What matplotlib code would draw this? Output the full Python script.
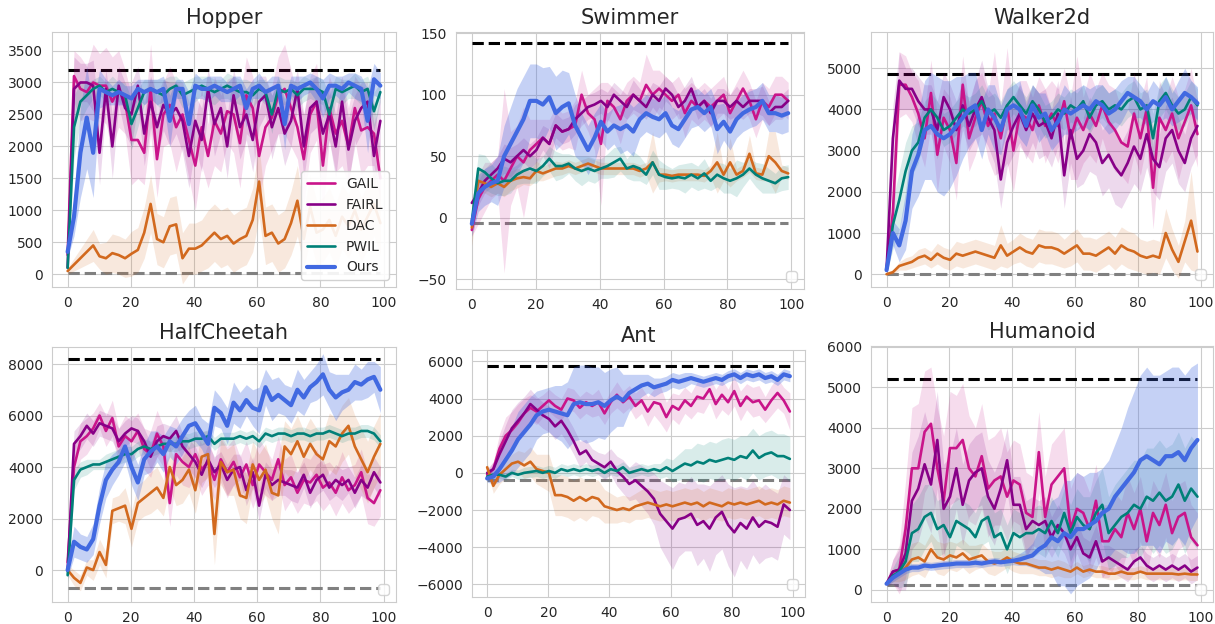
import numpy as np
import matplotlib
matplotlib.use("Agg")
import matplotlib.pyplot as plt
from matplotlib.ticker import MultipleLocator
import seaborn as sns

# training iterations (50 readings across 0..99)
steps = np.linspace(0, 99, 50)

methods = ["GAIL", "FAIRL", "DAC", "PWIL", "Ours"]
colors = ["#c9148a", "#870087", "#d2691e", "#008078", "#4169e1"]

# ---------------- Hopper ----------------
hopper_gail = [300, 3100, 2900, 2850, 3000, 2950, 2950, 2700, 2900, 2700, 2100, 2100, 1900, 2900, 1800, 2500, 2650, 2300, 2500, 2100,
               1700, 2300, 1850, 2400, 2200, 2550, 2500, 2050, 2800, 2600, 1850, 2300, 2450, 2800, 2900, 2600, 2300, 1800, 2500, 2700,
               1700, 2600, 2200, 2400, 2000, 2600, 2250, 2300, 2200, 1500]
hopper_fairl = [100, 2900, 3000, 3000, 2950, 1900, 2900, 2000, 2950, 2600, 2500, 2950, 2200, 2700, 2300, 2650, 2500, 2600, 2400, 1850,
                2400, 2100, 2900, 2350, 2600, 2000, 2800, 2300, 2500, 2100, 2700, 2800, 2300, 2600, 2200, 2400, 2900, 2000, 2600, 2700,
                2200, 2500, 2000, 2700, 1950, 2400, 2600, 2700, 1850, 2400]
hopper_dac = [50, 150, 250, 350, 450, 280, 250, 330, 300, 250, 320, 380, 650, 1100, 550, 500, 750, 780, 250, 400,
              400, 450, 550, 650, 550, 600, 480, 550, 600, 850, 1450, 600, 650, 480, 550, 800, 1150, 550, 1050, 650,
              700, 850, 600, 900, 750, 1000, 700, 900, 1100, 800]
hopper_pwil = [100, 2300, 2700, 2800, 2900, 2950, 2850, 2900, 2850, 2800, 2350, 2600, 2850, 2900, 2850, 2800, 2900, 2950, 2800, 2850,
               2900, 2950, 2900, 2850, 2900, 2950, 2900, 2850, 2850, 2800, 2900, 2850, 2500, 2900, 2850, 2900, 2800, 2900, 2900, 2900,
               2850, 2500, 2900, 2850, 2900, 2950, 2850, 2900, 2550, 2850]
hopper_ours = [350, 900, 1900, 2450, 1900, 2900, 2850, 2800, 2850, 2800, 2750, 2900, 2850, 2900, 2850, 2900, 2400, 2900, 2900, 2350,
               2950, 2900, 2900, 2950, 2900, 2850, 2900, 2950, 2600, 2900, 2950, 2850, 2900, 2950, 2350, 2950, 2900, 2950, 3000, 2900,
               2750, 2950, 2950, 2900, 3000, 2950, 2900, 2400, 3050, 2950]
hopper_gail_sd = [150, 400, 500, 400, 600, 500, 600, 700, 600, 500, 700, 600, 500, 700, 600, 500, 600, 700, 500, 600,
                  700, 600, 500, 700, 600, 500, 600, 700, 600, 500, 700, 600, 500, 600, 700, 600, 500, 700, 600, 600,
                  700, 500, 600, 700, 600, 500, 700, 600, 500, 400]
hopper_fairl_sd = [100, 500, 300, 300, 400, 500, 300, 500, 300, 400, 500, 300, 500, 400, 500, 400, 500, 400, 500, 500,
                   400, 500, 300, 500, 400, 500, 400, 500, 400, 500, 400, 300, 500, 400, 500, 400, 300, 500, 400, 400,
                   500, 400, 500, 300, 500, 400, 400, 300, 500, 400]
hopper_dac_sd = [50, 100, 150, 200, 250, 200, 250, 300, 300, 300, 350, 350, 400, 450, 400, 400, 450, 450, 400, 400,
                 400, 400, 450, 450, 450, 450, 450, 450, 450, 500, 550, 450, 450, 450, 450, 500, 550, 450, 500, 500,
                 500, 500, 500, 500, 500, 500, 500, 500, 500, 500]
hopper_pwil_sd = [50, 500, 300, 200, 150, 150, 150, 200, 150, 200, 400, 300, 200, 150, 200, 250, 200, 150, 200, 200,
                  200, 150, 200, 200, 150, 200, 200, 200, 200, 200, 150, 200, 300, 200, 200, 150, 200, 200, 150, 200,
                  200, 300, 200, 200, 150, 200, 200, 200, 300, 150]
hopper_ours_sd = [100, 300, 700, 800, 700, 300, 200, 150, 200, 150, 200, 150, 200, 150, 200, 200, 400, 150, 150, 500,
                  200, 150, 200, 150, 200, 150, 200, 150, 300, 150, 200, 150, 200, 150, 400, 150, 200, 150, 150, 200,
                  300, 200, 150, 200, 150, 200, 200, 500, 250, 200]

# ---------------- Swimmer ----------------
swimmer_gail = [-10, 15, 25, 30, 35, 30, 40, 50, 45, 55, 60, 65, 60, 75, 70, 72, 75, 100, 85, 80,
                60, 95, 90, 80, 95, 100, 95, 108, 100, 105, 100, 95, 100, 85, 95, 90, 95, 90, 95, 100,
                85, 95, 105, 95, 80, 95, 90, 100, 100, 95]
swimmer_fairl = [12, 20, 30, 35, 40, 48, 45, 50, 55, 50, 55, 65, 60, 75, 70, 72, 80, 85, 90, 92,
                 95, 90, 100, 95, 90, 100, 95, 90, 100, 95, 105, 100, 90, 95, 105, 90, 95, 85, 95, 95,
                 90, 95, 90, 95, 95, 95, 85, 90, 90, 95]
swimmer_dac = [-8, 30, 28, 25, 28, 25, 30, 32, 33, 32, 38, 36, 38, 40, 40, 42, 40, 42, 44, 42,
               40, 40, 40, 40, 40, 40, 38, 40, 45, 35, 35, 34, 35, 35, 35, 35, 34, 38, 45, 35,
               45, 35, 38, 52, 36, 35, 50, 45, 38, 36]
swimmer_pwil = [-3, 40, 37, 32, 28, 30, 30, 35, 38, 40, 38, 42, 48, 42, 42, 44, 40, 38, 40, 38,
                40, 42, 45, 48, 40, 42, 40, 35, 45, 35, 33, 32, 33, 32, 35, 32, 36, 30, 35, 32,
                30, 32, 35, 40, 35, 32, 30, 28, 32, 33]
swimmer_ours = [-5, 20, 25, 28, 30, 50, 60, 70, 80, 95, 95, 92, 98, 85, 90, 93, 75, 65, 55, 65,
                78, 70, 75, 72, 75, 70, 80, 85, 82, 80, 85, 75, 72, 80, 88, 90, 85, 90, 72, 78,
                70, 80, 85, 88, 90, 95, 85, 85, 83, 85]
swimmer_gail_sd = [5, 20, 20, 15, 15, 75, 30, 25, 45, 25, 20, 15, 20, 15, 15, 15, 20, 20, 15, 25,
                   50, 15, 15, 20, 15, 15, 15, 25, 20, 15, 15, 15, 15, 20, 15, 15, 15, 15, 15, 15,
                   15, 15, 15, 15, 15, 15, 15, 15, 15, 15]
swimmer_fairl_sd = [5, 10, 10, 10, 10, 12, 12, 10, 10, 10, 10, 10, 12, 10, 10, 10, 12, 10, 10, 10,
                    10, 12, 10, 10, 10, 12, 10, 10, 10, 12, 10, 10, 10, 12, 10, 10, 10, 12, 10, 10,
                    10, 12, 10, 10, 10, 12, 10, 10, 10, 10]
swimmer_dac_sd = [15, 10, 8, 8, 8, 8, 8, 8, 6, 6, 8, 6, 6, 6, 5, 5, 5, 5, 5, 5,
                  5, 5, 5, 5, 5, 5, 5, 5, 25, 6, 5, 5, 5, 5, 5, 5, 5, 5, 25, 5,
                  20, 5, 5, 15, 5, 5, 20, 25, 5, 5]
swimmer_pwil_sd = [8, 12, 14, 12, 10, 12, 10, 8, 10, 12, 10, 8, 10, 12, 10, 8, 10, 12, 10, 10,
                   8, 10, 12, 10, 8, 12, 10, 8, 10, 12, 10, 8, 10, 12, 10, 10, 12, 8, 10, 12,
                   10, 15, 10, 8, 10, 12, 10, 8, 10, 10]
swimmer_ours_sd = [10, 15, 15, 15, 20, 25, 30, 35, 35, 30, 30, 30, 25, 30, 30, 25, 25, 20, 20, 20,
                   15, 15, 15, 20, 20, 20, 15, 15, 15, 15, 15, 15, 15, 15, 15, 15, 15, 15, 20, 15,
                   15, 15, 15, 15, 15, 15, 15, 15, 15, 15]

# ---------------- Walker2d ----------------
walker_gail = [100, 1500, 4600, 4600, 4300, 3900, 3300, 4400, 2900, 3800, 3500, 2700, 4600, 3300, 3800, 4200, 3600, 3900, 3300, 4100,
               3000, 3900, 3800, 3500, 4100, 3600, 3900, 3600, 4200, 3300, 3800, 3500, 3900, 3600, 4100, 3700, 3500, 3200, 3100, 3900,
               3300, 4000, 2100, 3800, 3500, 3900, 3300, 3700, 4100, 3400]
walker_fairl = [100, 3300, 4700, 4500, 4500, 4200, 4000, 4000, 3500, 4300, 4000, 3500, 4100, 3600, 4000, 4300, 3800, 3500, 2300, 3200,
                3600, 3900, 3500, 3900, 3600, 3700, 3300, 3900, 2400, 3500, 2800, 3000, 3400, 3200, 2700, 2900, 2600, 2400, 2700, 3100,
                2800, 3400, 2800, 2600, 3300, 3500, 3000, 2700, 3300, 3600]
walker_dac = [0, 50, 200, 250, 300, 400, 450, 350, 500, 400, 350, 500, 450, 500, 550, 500, 450, 400, 700, 450,
              550, 650, 550, 500, 700, 650, 650, 600, 500, 600, 700, 500, 500, 450, 550, 650, 500, 700, 600, 550,
              450, 400, 450, 400, 1000, 600, 300, 800, 1300, 550]
walker_pwil = [100, 1200, 1800, 2500, 3000, 3200, 3800, 4000, 3800, 3500, 3600, 3800, 4000, 3900, 4000, 4200, 3900, 4000, 3800, 4100,
               4300, 4100, 3900, 4200, 4000, 3700, 3800, 4000, 3900, 4100, 4000, 4200, 3800, 4100, 4200, 4000, 4100, 4000, 4200, 4300,
               4000, 4100, 3300, 4200, 4400, 4100, 3900, 4000, 4300, 4100]
walker_ours = [100, 1000, 700, 1300, 2500, 2900, 3500, 3600, 3400, 3300, 3400, 3600, 3800, 4000, 4100, 3500, 4000, 3800, 3500, 4000,
               4100, 4000, 3600, 4100, 3800, 3900, 3500, 3700, 4000, 3900, 4000, 4100, 4000, 4200, 4100, 3900, 4000, 4200, 4400, 4300,
               4200, 4000, 4200, 4100, 4300, 4000, 4200, 4400, 4300, 4150]
walker_gail_sd = [100, 600, 800, 700, 600, 800, 700, 800, 900, 700, 800, 900, 700, 800, 900, 700, 800, 1500, 800, 1400,
                  1000, 800, 900, 800, 700, 900, 800, 900, 800, 1000, 1500, 800, 1000, 900, 800, 900, 1000, 800, 900, 1000,
                  900, 800, 1000, 900, 800, 900, 1000, 800, 900, 800]
walker_fairl_sd = [100, 800, 700, 500, 500, 600, 600, 600, 700, 600, 600, 700, 600, 600, 700, 900, 700, 800, 700, 600,
                   700, 700, 700, 700, 800, 800, 700, 800, 800, 800, 700, 800, 900, 800, 800, 800, 900, 800, 800, 900,
                   800, 800, 800, 800, 800, 800, 800, 700, 700, 700]
walker_dac_sd = [20, 50, 100, 150, 150, 200, 200, 200, 250, 250, 250, 300, 300, 300, 300, 300, 300, 300, 500, 300,
                 300, 350, 350, 350, 400, 400, 400, 400, 350, 400, 400, 400, 400, 400, 400, 400, 400, 450, 450, 450,
                 400, 400, 400, 400, 600, 500, 400, 500, 1200, 500]
walker_pwil_sd = [100, 600, 700, 700, 600, 500, 400, 400, 400, 400, 400, 400, 400, 400, 400, 400, 400, 400, 400, 400,
                  400, 400, 400, 400, 400, 400, 400, 400, 400, 400, 400, 400, 400, 400, 400, 400, 400, 400, 400, 400,
                  400, 400, 600, 400, 400, 400, 400, 400, 400, 400]
walker_ours_sd = [100, 300, 400, 700, 900, 1000, 1200, 1300, 1400, 1400, 1300, 1200, 1000, 900, 800, 700, 600, 800, 600, 500,
                  500, 700, 500, 500, 600, 500, 500, 500, 600, 500, 500, 500, 500, 400, 500, 500, 500, 500, 400, 500,
                  400, 400, 500, 400, 500, 400, 500, 600, 400, 400]

# ---------------- HalfCheetah ----------------
cheetah_gail = [300, 4000, 5000, 5200, 5500, 6000, 5400, 5900, 4800, 5200, 5000, 5400, 4700, 4500, 5300, 4800, 2600, 4500, 4200, 4000,
                4500, 3900, 4200, 3500, 4300, 3800, 4200, 3600, 4100, 3300, 4100, 3800, 3500, 4300, 3300, 3600, 3000, 3500, 3400, 3700,
                3200, 3400, 3000, 3600, 3100, 3300, 3800, 2800, 2600, 3100]
cheetah_fairl = [0, 4900, 5200, 5600, 5300, 5700, 5600, 5500, 5000, 5300, 5500, 5400, 5000, 4400, 5000, 5200, 5100, 5400, 4800, 4500,
                 4200, 3700, 4300, 3800, 4100, 3500, 3900, 4000, 3100, 3800, 2500, 3700, 3300, 3500, 3400, 3300, 3200, 3700, 3000, 3500,
                 3700, 3200, 3500, 3300, 3500, 3000, 3500, 3200, 3800, 3400]
cheetah_dac = [0, -300, -500, 100, 0, 700, 200, 2300, 2400, 2500, 1600, 2600, 2800, 3000, 3200, 2800, 4000, 3300, 3500, 3900,
               3100, 4400, 4500, 1400, 4200, 3800, 3900, 2900, 2800, 4100, 3500, 3900, 3000, 2900, 4800, 4500, 5000, 4400, 4900, 4500,
               4300, 5000, 4800, 5300, 5600, 4800, 4300, 3800, 4400, 4900]
cheetah_pwil = [-200, 3500, 3900, 4000, 4100, 4100, 4200, 4300, 4400, 4500, 4500, 4700, 4800, 4700, 4800, 4900, 4900, 4900, 5000, 5000,
                5100, 5100, 5200, 4900, 5100, 5100, 5100, 5200, 5100, 5200, 5000, 5300, 5200, 5300, 5300, 5200, 5300, 5300, 5200, 5300,
                5300, 5400, 5300, 5200, 5300, 5300, 5400, 5400, 5300, 5000]
cheetah_ours = [0, 1100, 900, 800, 1200, 2500, 3500, 3900, 4200, 4800, 4000, 3400, 4300, 4600, 4800, 4500, 5000, 4800, 5200, 5600,
                5700, 5300, 4900, 6300, 6100, 5600, 6500, 6200, 6600, 6300, 6200, 7100, 6600, 6800, 6600, 6400, 7000, 6700, 7100, 7300,
                7600, 7000, 6700, 6900, 7000, 7300, 7200, 7400, 7500, 7000]
cheetah_gail_sd = [300, 800, 700, 700, 600, 500, 600, 700, 700, 800, 800, 700, 800, 900, 900, 800, 900, 800, 900, 800,
                   900, 1000, 900, 800, 900, 1000, 900, 800, 900, 900, 1000, 900, 800, 900, 1000, 900, 800, 900, 900, 1000,
                   900, 800, 900, 1000, 900, 800, 900, 1000, 900, 1000]
cheetah_fairl_sd = [200, 500, 500, 500, 500, 500, 500, 500, 500, 500, 500, 500, 500, 500, 600, 500, 500, 600, 500, 600,
                    600, 500, 600, 600, 500, 600, 600, 500, 600, 600, 600, 500, 600, 600, 500, 600, 600, 500, 600, 600,
                    600, 500, 600, 600, 500, 600, 600, 500, 600, 600]
cheetah_dac_sd = [200, 300, 300, 300, 400, 500, 500, 500, 500, 700, 700, 700, 700, 800, 800, 700, 800, 800, 900, 900,
                  900, 1000, 900, 1200, 900, 900, 1000, 900, 1000, 900, 1000, 1000, 1000, 1500, 1000, 1000, 1000, 1000, 1000, 1000,
                  1000, 1100, 1100, 1100, 1100, 1200, 1200, 1200, 1200, 1200]
cheetah_pwil_sd = [300, 400, 300, 300, 200, 200, 300, 300, 300, 300, 300, 300, 300, 300, 300, 300, 300, 300, 300, 300,
                   300, 250, 250, 250, 250, 250, 250, 250, 250, 250, 250, 250, 250, 250, 250, 250, 250, 250, 250, 250,
                   250, 250, 250, 250, 250, 250, 250, 250, 250, 250]
cheetah_ours_sd = [300, 600, 500, 500, 600, 700, 700, 600, 500, 600, 700, 700, 600, 800, 600, 700, 600, 700, 700, 600,
                   700, 600, 800, 700, 600, 700, 800, 700, 600, 700, 900, 700, 800, 700, 600, 700, 800, 700, 600, 700,
                   800, 700, 900, 700, 600, 700, 600, 700, 600, 900]

# ---------------- Ant ----------------
ant_gail = [-100, 200, 1300, 2000, 2300, 2700, 3200, 3500, 3300, 3600, 3900, 3600, 3400, 4000, 3900, 3500, 3800, 3600, 3800, 3200,
            3800, 4200, 3800, 4100, 3600, 3900, 3300, 3800, 3700, 3000, 3600, 3400, 3900, 3600, 4100, 4000, 4500, 3700, 4200, 3800,
            4400, 3600, 4100, 3800, 3900, 3400, 3900, 4300, 3900, 3300]
ant_fairl = [0, 200, 1000, 1700, 2400, 2800, 3200, 3700, 3400, 3100, 2900, 2500, 2800, 2300, 1700, 1000, 1200, 700, 500, 300,
             600, 100, -200, -600, -400, -700, -1000, -1400, -2200, -2600, -3000, -2500, -2400, -2200, -2800, -2600, -3000, -2400, -2100, -2800,
             -3200, -2700, -3000, -2400, -2900, -2600, -2700, -2900, -1700, -2000]
ant_dac = [300, -700, -100, 200, 500, 600, 400, 600, 200, 100, 0, -1200, -1200, -1300, -1500, -1300, -1500, -1300, -1400, -1800,
           -1900, -2000, -1900, -2000, -1800, -1700, -1600, -1700, -1800, -1700, -1800, -1700, -1600, -1700, -1600, -1800, -1600, -1700, -1800, -1600,
           -1700, -1600, -1700, -1600, -1500, -1700, -1600, -1700, -1500, -1600]
ant_pwil = [-200, -100, -100, -200, 0, -100, 0, 50, 100, 0, 100, 0, 200, 100, 200, 100, 200, 100, 200, 0,
            200, 100, 300, 0, 100, 200, 100, 200, 100, 300, 100, 300, 500, 400, 600, 500, 700, 600, 700, 800,
            700, 900, 800, 1200, 800, 1000, 1100, 900, 900, 750]
ant_ours = [-300, -200, 200, 700, 1200, 1800, 2200, 2600, 3100, 3300, 3400, 3300, 3200, 3100, 3700, 3800, 3700, 3700, 3800, 3600,
            3900, 4100, 3900, 4300, 4500, 4700, 4800, 4600, 4700, 4800, 5000, 4900, 5000, 5100, 5000, 4900, 5000, 5100, 5000, 5200,
            5300, 5100, 5300, 5200, 5300, 5100, 5200, 5000, 5300, 5200]
ant_gail_sd = [200, 400, 800, 1000, 1000, 1000, 800, 700, 700, 600, 600, 600, 600, 600, 600, 600, 600, 600, 700, 600,
               600, 700, 600, 600, 700, 700, 800, 700, 1000, 800, 700, 800, 700, 700, 800, 800, 700, 800, 800, 700,
               800, 800, 700, 800, 800, 700, 800, 800, 700, 1000]
ant_fairl_sd = [200, 400, 700, 900, 1000, 1000, 900, 800, 700, 700, 700, 700, 700, 700, 700, 700, 600, 600, 600, 700,
                700, 800, 900, 900, 1000, 1100, 1200, 1400, 1800, 2000, 2200, 2000, 1800, 2000, 2200, 2000, 2300, 2000, 2000, 2200,
                2400, 2000, 2200, 2000, 2000, 2000, 1800, 1800, 1600, 1600]
ant_dac_sd = [200, 400, 500, 500, 500, 600, 700, 800, 800, 900, 1000, 1100, 1100, 1100, 1100, 1100, 1100, 1000, 1000, 900,
              800, 700, 700, 700, 700, 800, 800, 800, 800, 800, 800, 800, 800, 800, 800, 800, 800, 800, 800, 800,
              800, 800, 800, 800, 800, 800, 800, 800, 800, 800]
ant_pwil_sd = [200, 200, 200, 200, 200, 250, 300, 300, 300, 300, 300, 300, 300, 300, 300, 300, 300, 300, 300, 300,
               300, 300, 300, 300, 300, 300, 300, 300, 400, 500, 600, 700, 800, 900, 1000, 1000, 1000, 1000, 1100, 1100,
               1100, 1100, 1200, 1200, 1200, 1200, 1200, 1200, 1200, 1200]
ant_ours_sd = [200, 400, 700, 1000, 1300, 1500, 1500, 1500, 1300, 1200, 1200, 1400, 1500, 1800, 2000, 2000, 2100, 2000, 1900, 1800,
               1700, 1600, 1400, 1000, 800, 600, 500, 500, 400, 400, 400, 400, 400, 300, 300, 300, 300, 300, 300, 300,
               300, 300, 300, 300, 300, 300, 300, 300, 300, 300]

# ---------------- Humanoid ----------------
humanoid_gail = [150, 450, 500, 1500, 3000, 3000, 3900, 4100, 3000, 2200, 3500, 3500, 3700, 3000, 2800, 3300, 2500, 2700, 2800, 2300,
                 2700, 2600, 1900, 1800, 3400, 1800, 2600, 2800, 3000, 1500, 2000, 1900, 1500, 2200, 1200, 1200, 1500, 1300, 1900, 1500,
                 2000, 1200, 1900, 1600, 2100, 1400, 1800, 1900, 1300, 1100]
humanoid_fairl = [150, 450, 500, 900, 2200, 2500, 3100, 2600, 3700, 2000, 2300, 3000, 2100, 2700, 2900, 3000, 2300, 2000, 2500, 3200,
                  2100, 2100, 1500, 1700, 1600, 1700, 1300, 1600, 1400, 1000, 1300, 900, 800, 1200, 700, 800, 700, 600, 500, 700,
                  800, 600, 500, 600, 500, 600, 500, 600, 450, 550]
humanoid_dac = [150, 300, 400, 550, 750, 800, 700, 1000, 800, 750, 850, 800, 900, 750, 800, 850, 700, 650, 700, 800,
                700, 650, 650, 600, 550, 550, 500, 550, 500, 450, 550, 450, 500, 450, 450, 400, 400, 450, 400, 400,
                450, 400, 400, 400, 400, 400, 380, 400, 380, 380]
humanoid_pwil = [150, 350, 450, 700, 1400, 1500, 1800, 1900, 1500, 1600, 1300, 1700, 1600, 1500, 1300, 1700, 1800, 1300, 1400, 1000,
                 1400, 1300, 1400, 1400, 1500, 1400, 1700, 1400, 1900, 1400, 1800, 1600, 1500, 1900, 2100, 1400, 1600, 1800, 1900, 2100,
                 2000, 2300, 2200, 2400, 2200, 2300, 2600, 2200, 2500, 2300]
humanoid_ours = [150, 300, 400, 500, 550, 550, 600, 580, 600, 620, 630, 650, 650, 650, 670, 650, 680, 700, 680, 700,
                 720, 750, 800, 850, 1000, 1100, 1300, 1200, 1400, 1300, 1500, 1500, 1600, 1700, 1900, 2000, 2300, 2500, 2700, 2900,
                 3200, 3300, 3200, 3100, 3300, 3300, 3400, 3200, 3500, 3700]
humanoid_gail_sd = [50, 300, 600, 1200, 1500, 1600, 1500, 1400, 1500, 1600, 1400, 1300, 1400, 1300, 1200, 1300, 1200, 1100, 1200, 1100,
                    1000, 1000, 1000, 1000, 1000, 1000, 1000, 1000, 1000, 1000, 900, 900, 900, 900, 900, 900, 900, 900, 900, 900,
                    800, 800, 800, 800, 800, 800, 800, 800, 800, 800]
humanoid_fairl_sd = [50, 300, 500, 900, 1200, 1300, 1300, 1200, 1200, 1100, 1000, 1000, 1000, 900, 900, 900, 900, 900, 800, 800,
                     700, 700, 700, 600, 600, 600, 500, 500, 500, 500, 400, 400, 400, 400, 400, 300, 300, 300, 300, 300,
                     300, 300, 300, 300, 300, 300, 300, 300, 300, 300]
humanoid_dac_sd = [50, 100, 200, 300, 400, 400, 400, 400, 400, 400, 350, 350, 350, 350, 300, 300, 300, 300, 250, 250,
                   250, 250, 250, 200, 200, 200, 200, 200, 200, 150, 150, 150, 150, 150, 150, 150, 150, 150, 150, 150,
                   150, 150, 150, 150, 150, 150, 150, 150, 150, 150]
humanoid_pwil_sd = [50, 200, 400, 600, 700, 800, 800, 700, 700, 700, 700, 600, 600, 600, 600, 600, 600, 600, 600, 600,
                    600, 600, 600, 600, 600, 600, 600, 600, 600, 700, 700, 700, 800, 800, 900, 900, 1000, 1000, 1100, 1100,
                    1200, 1200, 1300, 1300, 1300, 1300, 1300, 1300, 1300, 1300]
humanoid_ours_sd = [50, 100, 100, 100, 100, 100, 100, 100, 100, 100, 100, 100, 100, 100, 100, 100, 100, 100, 100, 100,
                    100, 150, 200, 300, 500, 700, 900, 1100, 1300, 1400, 1400, 1300, 1300, 1200, 1100, 1200, 1300, 1500, 1800, 2000,
                    2100, 2200, 2100, 2200, 2100, 2200, 2100, 2100, 2000, 1900]

# expert and random-policy scores
envs = ["Hopper", "Swimmer", "Walker2d", "HalfCheetah", "Ant", "Humanoid"]
expert_scores = [3200, 142, 4870, 8200, 5750, 5200]
random_scores = [20, -4, 0, -700, -400, 120]
ytick_steps = [500, 50, 1000, 2000, 2000, 1000]

curves = {
    "Hopper": [(hopper_gail, hopper_gail_sd), (hopper_fairl, hopper_fairl_sd), (hopper_dac, hopper_dac_sd),
               (hopper_pwil, hopper_pwil_sd), (hopper_ours, hopper_ours_sd)],
    "Swimmer": [(swimmer_gail, swimmer_gail_sd), (swimmer_fairl, swimmer_fairl_sd), (swimmer_dac, swimmer_dac_sd),
                (swimmer_pwil, swimmer_pwil_sd), (swimmer_ours, swimmer_ours_sd)],
    "Walker2d": [(walker_gail, walker_gail_sd), (walker_fairl, walker_fairl_sd), (walker_dac, walker_dac_sd),
                 (walker_pwil, walker_pwil_sd), (walker_ours, walker_ours_sd)],
    "HalfCheetah": [(cheetah_gail, cheetah_gail_sd), (cheetah_fairl, cheetah_fairl_sd), (cheetah_dac, cheetah_dac_sd),
                    (cheetah_pwil, cheetah_pwil_sd), (cheetah_ours, cheetah_ours_sd)],
    "Ant": [(ant_gail, ant_gail_sd), (ant_fairl, ant_fairl_sd), (ant_dac, ant_dac_sd),
            (ant_pwil, ant_pwil_sd), (ant_ours, ant_ours_sd)],
    "Humanoid": [(humanoid_gail, humanoid_gail_sd), (humanoid_fairl, humanoid_fairl_sd), (humanoid_dac, humanoid_dac_sd),
                 (humanoid_pwil, humanoid_pwil_sd), (humanoid_ours, humanoid_ours_sd)],
}

ylims = {"Hopper": (-200, 3790), "Swimmer": (-58, 151), "Walker2d": (-310, 5880),
         "HalfCheetah": (-1240, 8660), "Ant": (-6680, 6610), "Humanoid": (-300, 6020)}

# axes boxes in pixels: left, top, right, bottom
boxes = [(52, 32, 396, 287), (456, 32, 804, 289), (871, 32, 1213, 287),
         (52, 347, 396, 602), (472, 350, 805, 597), (871, 346, 1213, 602)]

sns.set_style("whitegrid")
plt.rcParams["font.family"] = ["DejaVu Sans"]

W, H = 1215, 624
fig = plt.figure(figsize=(W / 100, H / 100), dpi=100)

for k, env in enumerate(envs):
    l, t, r, b = boxes[k]
    ax = fig.add_axes([l / W, 1 - b / H, (r - l) / W, (b - t) / H])
    ax.hlines(expert_scores[k], steps[0], steps[-1], colors="black", linestyles="--", linewidth=2.2, zorder=1)
    ax.hlines(random_scores[k], steps[0], steps[-1], colors="grey", linestyles="--", linewidth=2.2, zorder=1)
    for j, (mean, sd) in enumerate(curves[env]):
        mean = np.array(mean, dtype=float)
        sd = np.array(sd, dtype=float)
        is_ours = methods[j] == "Ours"
        ax.fill_between(steps, mean - sd, mean + sd, color=colors[j],
                        alpha=0.3 if is_ours else 0.15, linewidth=0, zorder=2)
        ax.plot(steps, mean, color=colors[j], linewidth=3.0 if is_ours else 1.9,
                label=methods[j], zorder=3 + j)
    ax.set_ylim(*ylims[env])
    ax.yaxis.set_major_locator(MultipleLocator(ytick_steps[k]))
    ax.set_xticks([0, 20, 40, 60, 80, 100])
    ax.set_title(env, fontsize=15, color=".15")
    ax.tick_params(labelsize=10, colors=".15", pad=3)
    if k == 0:
        ax.legend(loc="lower right", fontsize=10, framealpha=0.9)
    else:
        ax.legend(handles=[], loc="lower right")

fig.savefig("out.png", dpi=100)
